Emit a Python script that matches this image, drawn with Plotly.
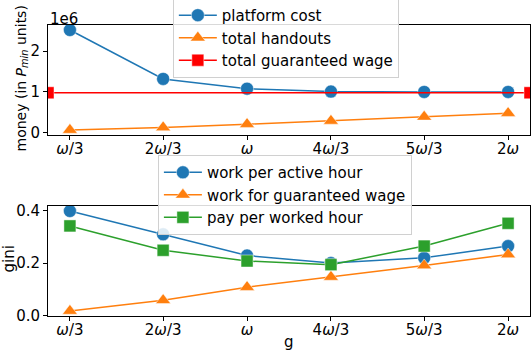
import plotly.graph_objects as go

# ---- data ----
g_values = [9, 19, 28, 37, 47, 56]
g_labels = ["<i>ω</i>/3", "2<i>ω</i>/3", "<i>ω</i>", "4<i>ω</i>/3", "5<i>ω</i>/3", "2<i>ω</i>"]

platform_cost = [2.52e6, 1.32e6, 1.08e6, 1.01e6, 1.0e6, 1.0e6]
total_handouts = [0.067e6, 0.13e6, 0.21e6, 0.29e6, 0.39e6, 0.48e6]
total_guaranteed_wage = 0.98e6

gini_work_active = [0.399, 0.31, 0.229, 0.200, 0.220, 0.265]
gini_work_wage = [0.017, 0.058, 0.108, 0.147, 0.191, 0.233]
gini_pay_worked = [0.342, 0.249, 0.208, 0.194, 0.265, 0.352]

money_ticks = [0, 1e6, 2e6]
money_tick_labels = ["0", "1", "2"]
gini_ticks = [0.0, 0.2, 0.4]
gini_tick_labels = ["0.0", "0.2", "0.4"]

BLUE = "#1f77b4"
ORANGE = "#ff7f0e"
GREEN = "#2ca02c"
RED = "#ff0000"
FONT = "DejaVu Sans"
FS = 15


def pad_range(vals, frac=0.05):
    lo, hi = min(vals), max(vals)
    d = (hi - lo) * frac
    return [lo - d, hi + d]


xr = pad_range(g_values)
yr_top = pad_range(platform_cost + total_handouts)
yr_bot = pad_range(gini_work_active + gini_work_wage + gini_pay_worked)

edge = dict(color="rgba(255,255,255,0.45)", width=1)

fig = go.Figure()


def add(x, y, name, color, symbol, xa, ya, legend, size=12):
    fig.add_trace(go.Scatter(
        x=x, y=y, name=name, mode="lines+markers",
        line=dict(color=color, width=1.5),
        marker=dict(color=color, symbol=symbol, size=size, line=edge),
        xaxis=xa, yaxis=ya, legend=legend, cliponaxis=True,
    ))


add(g_values, platform_cost, "platform cost", BLUE, "circle", "x", "y", "legend", 13)
add(g_values, total_handouts, "total handouts", ORANGE, "triangle-up", "x", "y", "legend", 13)
add(xr, [total_guaranteed_wage] * 2, "total guaranteed wage", RED, "square", "x", "y", "legend", 12)

add(g_values, gini_work_active, "work per active hour", BLUE, "circle", "x2", "y2", "legend2", 13)
add(g_values, gini_work_wage, "work for guaranteed wage", ORANGE, "triangle-up", "x2", "y2", "legend2", 13)
add(g_values, gini_pay_worked, "pay per worked hour", GREEN, "square", "x2", "y2", "legend2", 12)

axis_common = dict(
    showline=True, linecolor="black", linewidth=1, mirror=True, automargin=False,
    ticks="outside", ticklen=4, tickcolor="black", showgrid=False, zeroline=False,
    tickfont=dict(family=FONT, size=FS, color="black"),
)

legend_common = dict(
    bgcolor="rgba(255,255,255,0.85)", bordercolor="#d0d0d0", borderwidth=1,
    font=dict(family=FONT, size=FS, color="black"),
    xanchor="left", yanchor="top", itemwidth=38, tracegroupgap=0,
)

txt = dict(family=FONT, size=FS, color="black")

fig.update_layout(
    width=532, height=356,
    margin=dict(l=48, r=2, t=25, b=40, autoexpand=False),
    plot_bgcolor="white", paper_bgcolor="white",
    font=txt,
    xaxis=dict(domain=[0, 1], anchor="y", range=xr, tickvals=g_values, ticktext=g_labels,
               ticklabelstandoff=-4, **axis_common),
    yaxis=dict(domain=[0.622, 1], anchor="x", range=yr_top, tickvals=money_ticks, ticktext=money_tick_labels,
               **axis_common),
    xaxis2=dict(domain=[0, 1], anchor="y2", range=xr, tickvals=g_values, ticktext=g_labels,
                ticklabelstandoff=-4, **axis_common),
    yaxis2=dict(domain=[0, 0.378], anchor="x2", range=yr_bot, tickvals=gini_ticks, ticktext=gini_tick_labels,
                **axis_common),
    legend=dict(x=0.259, y=1.093, **legend_common),
    legend2=dict(x=0.228, y=0.553, **legend_common),
    showlegend=True,
    annotations=[
        dict(text="1e6", xref="paper", yref="paper", x=0, y=1.0, xanchor="left", yanchor="bottom",
             yshift=-5, showarrow=False, font=txt),
        dict(text="money (in <i>P<sub>min</sub></i> units)", xref="paper", yref="y domain", x=0, y=0.5,
             xanchor="center", yanchor="middle", xshift=-26, yshift=1.5, textangle=-90, showarrow=False,
             font=dict(family=FONT, size=14, color="black")),
        dict(text="gini", xref="paper", yref="y2 domain", x=0, y=0.5,
             xanchor="center", yanchor="middle", xshift=-38.5, yshift=2, textangle=-90, showarrow=False,
             font=txt),
        dict(text="g", xref="x2 domain", yref="paper", x=0.5, y=0,
             xanchor="center", yanchor="middle", yshift=-26, showarrow=False, font=txt),
    ],
)

# the page body gets no default margin, so the figure fills the window exactly
fig.write_html("out.html", config={"displayModeBar": False},
               post_script="document.body.style.margin='0px';")
